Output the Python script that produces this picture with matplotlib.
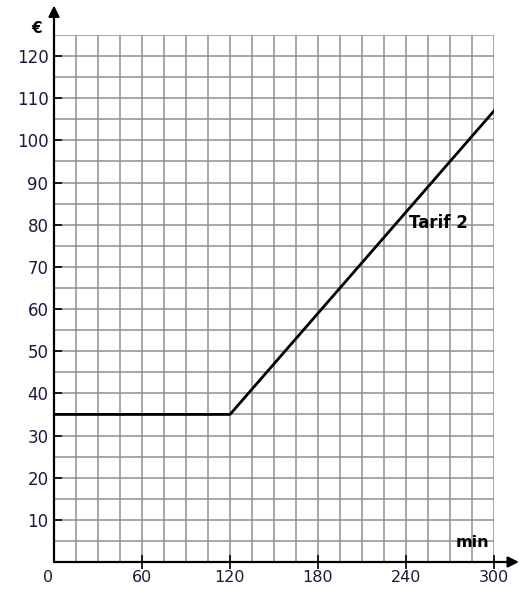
import matplotlib

matplotlib.use("Agg")
import matplotlib.pyplot as plt
import matplotlib.transforms as mtransforms

# piecewise tariff: flat fee up to 120 min, then linear
minutes = [0, 120, 300]
euros = [35, 35, 107]

x_ticks = [60, 120, 180, 240, 300]
x_labels = ["0", "60", "120", "180", "240", "300"]
y_ticks = [10, 20, 30, 40, 50, 60, 70, 80, 90, 100, 110, 120]

x_max, y_max = 300, 125
x_step, y_step = 15, 5

fig = plt.figure(figsize=(5.30, 5.89), dpi=100)
ax = fig.add_axes([54 / 530, 27 / 589, 440 / 530, 527 / 589])
ax.set_xlim(0, x_max)
ax.set_ylim(0, y_max)
for side in ax.spines.values():
    side.set_visible(False)

grid_kw = dict(color="#8f8f8f", linewidth=1.1, zorder=1)
for gx in range(x_step, x_max + 1, x_step):
    ax.plot([gx, gx], [0, y_max], **grid_kw)
for gy in range(y_step, y_max + 1, y_step):
    ax.plot([0, x_max], [gy, gy], **grid_kw)

arrow_kw = dict(arrowstyle="-|>", color="black", lw=1.6, mutation_scale=16,
                shrinkA=0, shrinkB=0)
ax.annotate("", xy=(317, 0), xytext=(0, 0), arrowprops=arrow_kw,
            annotation_clip=False, zorder=4)
ax.annotate("", xy=(0, 132), xytext=(0, 0), arrowprops=arrow_kw,
            annotation_clip=False, zorder=4)

ax.plot(minutes, euros, color="black", linewidth=2.0, zorder=3)

ax.set_xticks([0] + x_ticks)
ax.set_xticklabels(x_labels)
ax.set_yticks(y_ticks)
ax.tick_params(axis="x", direction="inout", length=10, width=1.2, pad=1,
               labelsize=11.5, colors="black")
ax.tick_params(axis="y", direction="in", length=6, width=1.2, pad=4,
               labelsize=12, colors="black")
first = ax.xaxis.get_major_ticks()[0]
first.tick1line.set_visible(False)
shift = mtransforms.ScaledTranslation(-6 / 100, 0, fig.dpi_scale_trans)
first.label1.set_transform(first.label1.get_transform() + shift)
for label in ax.get_xticklabels() + ax.get_yticklabels():
    label.set_color("#1a1a40")

ax.text(-12, 126.5, "€", fontsize=11, fontweight="bold", ha="center", va="center")
ax.text(285, 4.6, "min", fontsize=11.5, fontweight="bold", ha="center", va="center")
ax.text(262, 80.5, "Tarif 2", fontsize=12, fontweight="bold", ha="center",
        va="center", zorder=5)

fig.savefig("out.png", dpi=100)
